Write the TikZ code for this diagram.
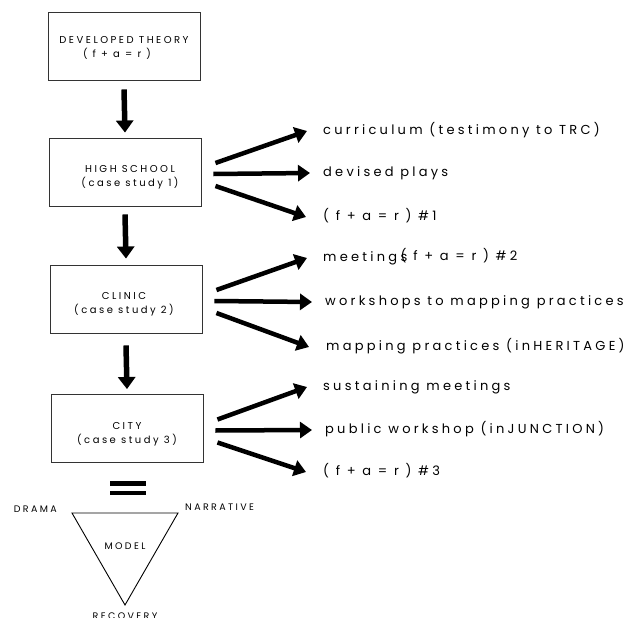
\documentclass[tikz,border=0pt]{standalone}
\usepackage{fontspec}
\setmainfont{Poppins}[LetterSpace=25]
\usetikzlibrary{arrows.meta}

\tikzset{
  stage/.style={draw=black!80, line width=0.9pt, minimum width=152pt, minimum height=68pt},
  stagetext/.style={align=center, inner sep=0pt, font=\fontsize{10}{14}\selectfont},
  item/.style={anchor=west, inner sep=0pt, text height=8.5pt, text depth=2.5pt, font=\fontsize{13}{14}\selectfont},
  corner/.style={inner sep=0pt, font=\fontsize{9.5}{11}\selectfont},
  down/.style={line width=5.5pt, -{Triangle[length=12pt,width=17pt]}},
  branch/.style={line width=4.5pt, -{Triangle[length=12pt,width=16pt]}},
}

\begin{document}
\begin{tikzpicture}[x=1pt, y=-1pt]
    \useasboundingbox (0,0) rectangle (627,618);
    % Boxes
    \node[stage] (th) at (124,46) {};
    \node[stage] (hs) at (125,172) {};
    \node[stage] (cl) at (126,299) {};
    \node[stage] (ci) at (127,428.5) {};
    \node[stagetext] (thtxt) at (124,48) {DEVELOPED THEORY\\\hspace*{-14pt}( f + a = r )};
    \node[stagetext] (hstxt) at (130,177) {HIGH SCHOOL\\(case study 1)};
    \node[stagetext] (cltxt) at (124,304) {CLINIC\\(case study 2)};
    \node[stagetext] (citxt) at (127,434) {CITY\\(case study 3)};
    % Down arrows
    \draw[down] ([yshift=-9pt]th.south) -- ([yshift=5pt]hs.north);
    \draw[down] ([yshift=-8pt]hs.south) -- ([yshift=6pt]cl.north);
    \draw[down] ([yshift=-12pt]cl.south) -- ([yshift=5pt]ci.north);
    % Outcomes
    \node[item] (hs1) at (323,131) {curriculum (testimony to TRC)};
    \node[item] (hs2) at (323,173) {devised plays};
    \node[item] (hs3) at (323,217) {( f + a = r ) \#1};
    \node[item] (cl1) at (323,258) {meetings};
    \node[item] (cl1b) at ([xshift=-7pt,yshift=1pt]cl1.east) {( f + a = r ) \#2};
    \node[item] (cl2) at (325,302) {workshops to mapping practices};
    \node[item] (cl3) at (326,347) {mapping practices (inHERITAGE)};
    \node[item] (ci1) at (323,387) {sustaining meetings};
    \node[item] (ci2) at (325,430) {public workshop (inJUNCTION)};
    \node[item] (ci3) at (323,472) {( f + a = r ) \#3};
    \foreach \b in {hs,cl,ci}{
        \draw[branch] ([xshift=14pt,yshift=9pt]\b.east) -- ([xshift=-16pt]\b1.west);
        \draw[branch] ([xshift=12pt,yshift=-2pt]\b.east) -- ([xshift=-13pt]\b2.west);
        \draw[branch] ([xshift=14pt,yshift=-14pt]\b.east) -- ([xshift=-17pt]\b3.west);
    }
    % Equals
    \fill (110,481) rectangle (146,485.5);
    \fill (110,490.5) rectangle (146,495);
    % Model
    \coordinate (dr) at (72,513);
    \coordinate (na) at (178,513);
    \coordinate (re) at (125,605);
    \draw[line width=0.9pt] (dr) -- (na) -- (re) -- cycle;
    \node[corner, anchor=east] (drama) at (57,509) {DRAMA};
    \node[corner, anchor=west] (narr) at (185,507) {NARRATIVE};
    \node[corner] (model) at (125,546) {MODEL};
    \node[corner, anchor=north] (recov) at (125,612.5) {RECOVERY};
\end{tikzpicture}
\end{document}
